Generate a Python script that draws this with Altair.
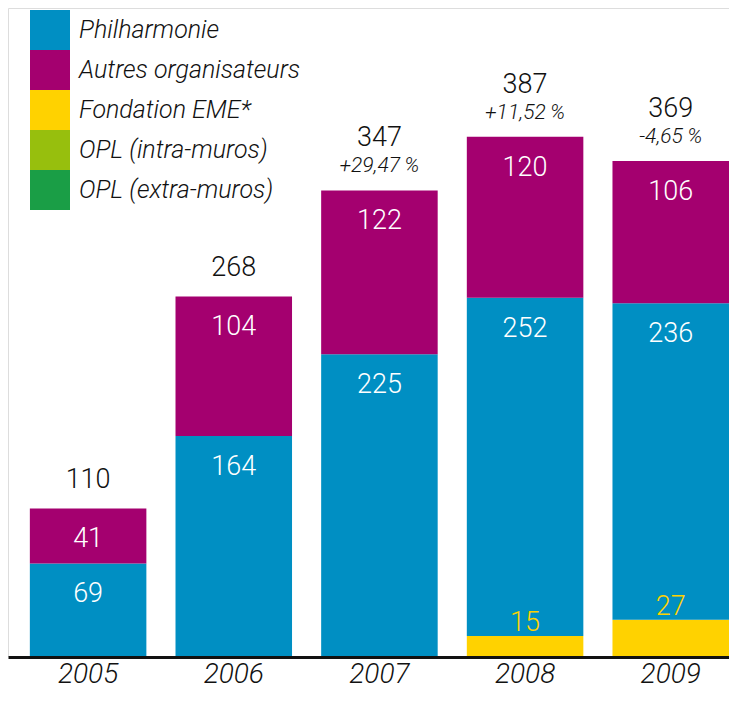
import altair as alt
import pandas as pd

years = ["2005", "2006", "2007", "2008", "2009"]
fondation = [0, 0, 0, 15, 27]
philharmonie = [69, 164, 225, 252, 236]
autres = [41, 104, 122, 120, 106]
totals = [110, 268, 347, 387, 369]
pct = ["", "", "+29,47\u2009%", "+11,52\u2009%", "-4,65\u2009%"]

series_names = ["Philharmonie", "Autres organisateurs", "Fondation EME*",
                "OPL (intra-muros)", "OPL (extra-muros)"]
series_colors = ["#008FC3", "#A4006F", "#FFD200", "#97BF0D", "#1A9E46"]

FONT = "Roboto"

rows = []
for i, yr in enumerate(years):
    start = 0
    for name, vals in [("Fondation EME*", fondation),
                       ("Philharmonie", philharmonie),
                       ("Autres organisateurs", autres)]:
        v = vals[i]
        rows.append({"year": yr, "series": name, "value": v,
                     "start": start, "end": start + v})
        start += v
seg = pd.DataFrame(rows)
seg = seg[seg["value"] > 0]

tot = pd.DataFrame({"year": years, "total": totals, "pct": pct})
tot["haspct"] = tot["pct"] != ""

xscale = alt.Scale(domain=years, paddingInner=0.2, paddingOuter=0.075, align=1)
yscale = alt.Scale(domain=[0, 483], nice=False, zero=True)

x = alt.X("year:N", scale=xscale, sort=years,
          axis=alt.Axis(title=None, labelAngle=0, ticks=False, tickSize=0,
                        domainColor="#111111", domainWidth=3, offset=1,
                        labelFont=FONT, labelFontSize=28, labelFontStyle="italic",
                        labelFontWeight=300, labelColor="#111111", labelPadding=3))

bars = alt.Chart(seg).mark_bar().encode(
    x=x,
    y=alt.Y("start:Q", scale=yscale, axis=None),
    y2="end:Q",
    color=alt.Color("series:N",
                    scale=alt.Scale(domain=series_names, range=series_colors),
                    legend=alt.Legend(title=None, orient="none", legendX=22, legendY=2,
                                      symbolType="square", symbolSize=1600,
                                      symbolStrokeWidth=0, symbolOpacity=1,
                                      labelFont=FONT, labelFontSize=25,
                                      labelFontStyle="italic", labelFontWeight=300,
                                      labelColor="#111111", labelOffset=9,
                                      rowPadding=0, padding=0, labelLimit=400)),
)

white_lbl = alt.Chart(seg).transform_filter(
    "datum.series != 'Fondation EME*'"
).mark_text(font=FONT, fontSize=27, fontWeight=300, color="white",
            baseline="middle", dy=31).encode(
    x=alt.X("year:N", scale=xscale, sort=years),
    y=alt.Y("end:Q", scale=yscale),
    text="value:Q",
)

yellow_lbl = alt.Chart(seg).transform_filter(
    "datum.series == 'Fondation EME*'"
).mark_text(font=FONT, fontSize=27, fontWeight=300, color="#FFD200",
            baseline="middle", dy=-13).encode(
    x=alt.X("year:N", scale=xscale, sort=years),
    y=alt.Y("end:Q", scale=yscale),
    text="value:Q",
)

tot_plain = alt.Chart(tot).transform_filter("!datum.haspct").mark_text(
    font=FONT, fontSize=27, fontWeight=300, color="#111111",
    baseline="middle", dy=-28).encode(
    x=alt.X("year:N", scale=xscale, sort=years),
    y=alt.Y("total:Q", scale=yscale),
    text="total:Q",
)

tot_pct = alt.Chart(tot).transform_filter("datum.haspct").mark_text(
    font=FONT, fontSize=27, fontWeight=300, color="#111111",
    baseline="middle", dy=-52).encode(
    x=alt.X("year:N", scale=xscale, sort=years),
    y=alt.Y("total:Q", scale=yscale),
    text="total:Q",
)

pct_lbl = alt.Chart(tot).transform_filter("datum.haspct").mark_text(
    font=FONT, fontSize=21, fontWeight=300, fontStyle="italic", color="#111111",
    baseline="middle", dy=-24).encode(
    x=alt.X("year:N", scale=xscale, sort=years),
    y=alt.Y("total:Q", scale=yscale),
    text="pct:N",
)

chart = alt.layer(bars, white_lbl, yellow_lbl, tot_plain, tot_pct, pct_lbl).properties(
    width=721, height=648,
    autosize=alt.AutoSizeParams(type="none"),
    padding={"left": 0, "top": 0, "right": 0, "bottom": 32},
).configure_view(stroke=None).configure(background="white")

chart.save("out.html", embed_options={"renderer": "svg", "actions": False})
